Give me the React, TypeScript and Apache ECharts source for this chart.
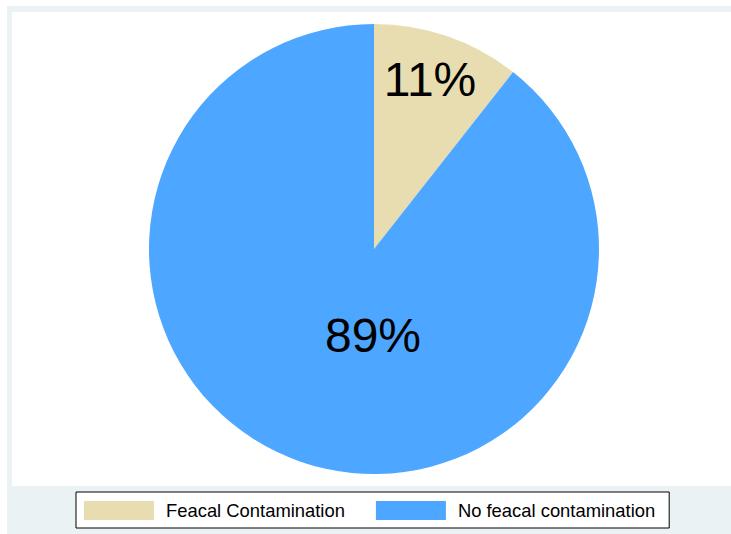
import React, { useEffect, useRef } from "react";
import * as echarts from "echarts";

const categories = ["Feacal Contamination", "No feacal contamination"];
const values = [10.6, 89.4];
const colors = ["#E8DDB0", "#4DA6FF"];

export default function App() {
  const ref = useRef<HTMLDivElement>(null);
  useEffect(() => {
    if (!ref.current) return;
    const chart = echarts.init(ref.current, undefined, { renderer: "svg" });
    const font = "'Liberation Sans', Arial, sans-serif";
    const labelPos = [
      { x: 430, y: 79 },
      { x: 373, y: 335 },
    ];
    chart.setOption({
      animation: false,
      backgroundColor: "#ffffff",
      graphic: [
        { type: "rect", z: -10, silent: true, shape: { x: 7, y: 6, width: 724, height: 528 }, style: { fill: "#EAF2F3" } },
        { type: "rect", z: -9, silent: true, shape: { x: 12, y: 12, width: 719, height: 474 }, style: { fill: "#ffffff" } },
      ],
      legend: {
        left: 76,
        top: 492,
        orient: "horizontal",
        icon: "rect",
        itemWidth: 70,
        itemHeight: 19,
        itemGap: 31,
        padding: [8, 14, 7, 8],
        borderColor: "#000000",
        borderWidth: 1,
        backgroundColor: "#ffffff",
        data: categories,
        textStyle: { fontFamily: font, fontSize: 18.4, lineHeight: 19, color: "#000000", padding: [2, 0, 0, 7] },
      },
      series: [
        {
          type: "pie",
          center: [374, 249],
          radius: 225,
          startAngle: 90,
          clockwise: true,
          itemStyle: { borderWidth: 0 },
          label: {
            show: true,
            position: "inside",
            formatter: (p: any) => `${Math.round(p.value)}%`,
            fontFamily: font,
            fontSize: 48,
            color: "#000000",
          },
          labelLine: { show: false },
          labelLayout: (p: any) => ({ x: labelPos[p.dataIndex].x, y: labelPos[p.dataIndex].y, align: "center", verticalAlign: "middle" }),
          emphasis: { disabled: true },
          data: categories.map((c, i) => ({ name: c, value: values[i], itemStyle: { color: colors[i] } })),
        },
      ],
    });
    return () => chart.dispose();
  }, []);
  return <div ref={ref} style={{ position: "fixed", left: 0, top: 0, width: 731, height: 534 }} />;
}
